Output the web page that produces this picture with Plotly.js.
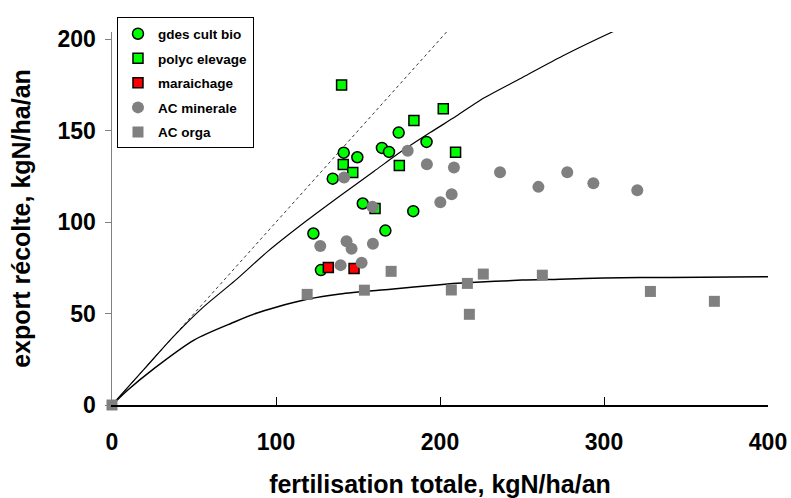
<!DOCTYPE html>
<html>
<head>
<meta charset="utf-8">
<script src="https://cdn.plot.ly/plotly-3.0.1.min.js"></script>
<style>html,body{margin:0;padding:0;background:#fff;}#chart{width:791px;height:498px;}</style>
</head>
<body>
<div id="chart"></div>
<script>
// Series data
var bioX = [122.8, 127.4, 134.6, 141.3, 149.6, 152.9, 164.6, 168.9, 166.7, 174.8, 183.7, 191.8];
var bioY = [93.8, 73.8, 123.8, 138, 135.5, 110.2, 140.6, 138.4, 95.4, 149, 106, 143.9];

var polyX = [140, 141, 146.8, 160.4, 175.2, 184.1, 202, 209.5];
var polyY = [175, 131.5, 127.2, 107.5, 131, 155.6, 162, 138.3];

var maraiX = [131.9, 147.6];
var maraiY = [75.2, 74.7];

var acMinX = [127, 139.4, 141.5, 143, 146.1, 152.2, 158.8, 159.1, 180.3, 192, 200.2, 207.1, 208.5, 236.6, 260, 277.6, 293.5, 320.3];
var acMinY = [87, 76.5, 124.4, 89.6, 85.5, 77.8, 108.4, 88.2, 139, 131.7, 110.9, 115.3, 129.9, 127.3, 119.3, 127.3, 121.3, 117.5];

var acOrgX = [0, 119, 153.9, 170.2, 206.9, 216.7, 217.9, 226.4, 262.4, 328.3, 367.3];
var acOrgY = [0, 60.5, 62.8, 73.1, 62.9, 66.5, 49.6, 71.6, 71.0, 62.1, 56.7];

// Reference curves
var lineOneX = [0, 210];
var lineOneY = [0, 210];

var midCurveX = [0, 20, 37, 55, 75, 95, 119, 140, 160, 177, 194, 210, 225, 250, 275, 305, 310];
var midCurveY = [0, 20, 37, 53, 68, 84, 101, 115, 128, 139, 149, 158, 167, 179, 191, 204, 206];

var lowCurveX = [0, 10, 25, 50, 75, 88, 100, 119, 139, 170, 200, 216, 250, 273, 300, 340, 400];
var lowCurveY = [0, 8.5, 19.5, 35.5, 45.5, 50.2, 53.5, 57.8, 60.7, 63.3, 65.8, 66.8, 68.3, 68.8, 69.5, 69.8, 70.1];

var xTicks = [0, 100, 200, 300, 400];
var yTicks = [0, 50, 100, 150, 200];

var FONT = 'Liberation Sans, Arial, sans-serif';

var traces = [
  {x: lineOneX, y: lineOneY, mode: 'lines', line: {color: '#000', width: 0.8, dash: 'dot'}, showlegend: false, hoverinfo: 'skip'},
  {x: midCurveX, y: midCurveY, mode: 'lines', line: {color: '#000', width: 1.2, shape: 'spline', smoothing: 0.8}, showlegend: false, hoverinfo: 'skip'},
  {x: lowCurveX, y: lowCurveY, mode: 'lines', line: {color: '#000', width: 1.5, shape: 'spline', smoothing: 0.8}, showlegend: false, hoverinfo: 'skip'},
  {x: bioX, y: bioY, mode: 'markers', name: 'gdes cult bio', legendgroup: 'a', cliponaxis: false,
   marker: {symbol: 'circle', size: 11, color: '#00ff00', line: {color: '#000', width: 1.5}}},
  {x: polyX, y: polyY, mode: 'markers', name: 'polyc elevage', legendgroup: 'b', cliponaxis: false,
   marker: {symbol: 'square', size: 10, color: '#00ff00', line: {color: '#000', width: 1.5}}},
  {x: maraiX, y: maraiY, mode: 'markers', name: 'maraichage', legendgroup: 'c', cliponaxis: false,
   marker: {symbol: 'square', size: 10, color: '#ff0000', line: {color: '#000', width: 1.5}}},
  {x: acMinX, y: acMinY, mode: 'markers', name: 'AC minerale', legendgroup: 'd', cliponaxis: false,
   marker: {symbol: 'circle', size: 12, color: '#808080'}},
  {x: acOrgX, y: acOrgY, mode: 'markers', name: 'AC orga', legendgroup: 'e', cliponaxis: false,
   marker: {symbol: 'square', size: 11, color: '#808080'}}
];

var layout = {
  width: 791, height: 498,
  margin: {l: 112, r: 23, t: 32, b: 93},
  paper_bgcolor: '#fff', plot_bgcolor: '#fff',
  font: {family: FONT, color: '#000'},
  xaxis: {
    range: [0, 400], tickvals: xTicks, ticktext: xTicks.map(String),
    showgrid: false, zeroline: false, showline: true, linecolor: '#000', linewidth: 1.5,
    ticks: 'inside', ticklen: 8, tickcolor: '#000', tickwidth: 1,
    ticklabelstandoff: 16,
    tickfont: {family: FONT, size: 23, weight: 700, color: '#000'},
    title: {text: 'fertilisation totale, kgN/ha/an', font: {family: FONT, size: 25, weight: 700, color: '#000'}, standoff: 24}
  },
  yaxis: {
    range: [0, 204], tickvals: yTicks, ticktext: yTicks.map(String),
    showgrid: false, zeroline: false, showline: true, linecolor: '#808080', linewidth: 1.5,
    ticks: 'outside', ticklen: 6, tickcolor: '#808080', tickwidth: 1,
    ticklabelstandoff: 4,
    tickfont: {family: FONT, size: 23, weight: 700, color: '#000'},
    title: {text: 'export récolte, kgN/ha/an', font: {family: FONT, size: 25, weight: 700, color: '#000'}, standoff: 20}
  },
  legend: {
    x: 0.0076, y: 1.039, xanchor: 'left', yanchor: 'top',
    bgcolor: '#fff', bordercolor: '#000', borderwidth: 1,
    font: {family: FONT, size: 13.5, weight: 700, color: '#000'},
    traceorder: 'grouped', tracegroupgap: 4,
    itemwidth: 30, entrywidth: 150
  },
  showlegend: true
};

Plotly.newPlot('chart', traces, layout, {displayModeBar: false, staticPlot: true});
</script>
</body>
</html>
